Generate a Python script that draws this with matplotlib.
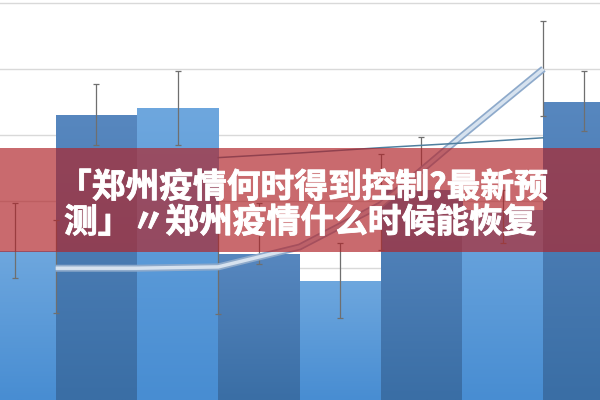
import numpy as np
import matplotlib
matplotlib.use('Agg')
import matplotlib.pyplot as plt
import matplotlib.patheffects as pe
from matplotlib.colors import LinearSegmentedColormap
from matplotlib.patches import Rectangle

# bar series (8 categories, first and last cut off by the frame)
bar_vals = [2.25, 4.31, 4.41, 2.21, 1.80, 3.17, 2.87, 4.50]
bar_hi = [2.98, 4.77, 4.97, 2.98, 2.37, 3.97, 3.17, 4.97]
bar_lo = [1.84, 3.85, 3.85, 2.05, 1.24, 3.05, 2.37, 4.06]

# thick line series, sits between the bars
trend_vals = [1.99, 1.99, 2.01, 2.31, 2.95, 3.99, 5.00]
# error bars on some of the trend points
trend_err_idx = [0, 2, 4, 6]
trend_hi = [2.72, 2.72, 3.72, 5.73]
trend_lo = [1.31, 1.30, 2.27, 4.29]

# thin line series
thin_start = 2
thin_vals = [3.66, 3.73, 3.81, 3.88, 3.96]

title_lines = ["「郑州疫情何时得到控制?最新预", "测」〃郑州疫情什么时候能恢复"]

fig = plt.figure(figsize=(6, 4), dpi=100)
ax = fig.add_axes([0, 0, 1, 1])
ax.axis('off')

#grid
for g in range(1, 7):
    ax.axhline(g, color='#d9d9d9', lw=1, zorder=1)

x = np.arange(len(bar_vals))
bars = ax.bar(x, bar_vals, width=1.0, color='#5b9bd5', zorder=2)

dark = LinearSegmentedColormap.from_list('dark', ['#3a6ea5', '#5787bf'])
light = LinearSegmentedColormap.from_list('light', ['#488dd2', '#6ea7de'])
grad = np.linspace(0, 1, 100).reshape(-1, 1)
for i, b in enumerate(bars):
    cmap = dark if i % 2 else light
    im = ax.imshow(grad, extent=[b.get_x(), b.get_x() + b.get_width(), 0, b.get_height()],
                   origin='lower', cmap=cmap, aspect='auto', zorder=2)
    im.set_clip_path(b)

vals = np.array(bar_vals)
ax.errorbar(x, vals, yerr=[vals - np.array(bar_lo), np.array(bar_hi) - vals],
            fmt='none', ecolor='#6f6f6f', elinewidth=0.9, capsize=2, capthick=0.9, zorder=4)

tx = np.arange(len(trend_vals)) + 0.5
ax.plot(tx, trend_vals, color='#8eaacb', lw=5, solid_capstyle='butt', zorder=5)
ax.plot(tx, trend_vals, color='#d6e2ef', lw=2.5, solid_capstyle='butt', zorder=5)

ex = tx[trend_err_idx]
ev = np.array(trend_vals)[trend_err_idx]
ax.errorbar(ex, ev, yerr=[ev - np.array(trend_lo), np.array(trend_hi) - ev],
            fmt='none', ecolor='#6f6f6f', elinewidth=0.9, capsize=2, capthick=0.9, zorder=4)

thx = np.arange(thin_start, thin_start + len(thin_vals)) + 0.5
ax.plot(thx, thin_vals, color='#4f7f9f', lw=1.1, zorder=5)

ax.set_xlim(-0.185, 7.196)
ax.set_ylim(0, 6.04)

# red banner over the chart
ax.add_patch(Rectangle((0, 0.37), 1, 0.26, transform=ax.transAxes,
                       facecolor='#b02429', alpha=0.68, lw=0, zorder=10))

heavy = [pe.withStroke(linewidth=0.6, foreground='white')]
ax.text(58 / 600, 1 - 187 / 400, title_lines[0], transform=ax.transAxes,
        family=['Noto Sans CJK SC', 'DejaVu Sans'], weight='black', fontsize=24.3,
        color='white', ha='left', va='center', zorder=11, path_effects=heavy)
ax.text(64 / 600, 1 - 222 / 400, title_lines[1], transform=ax.transAxes,
        family=['Noto Sans CJK SC', 'DejaVu Sans'], weight='black', fontsize=24.3,
        color='white', ha='left', va='center', zorder=11, path_effects=heavy)

fig.savefig('out.png', dpi=100)
